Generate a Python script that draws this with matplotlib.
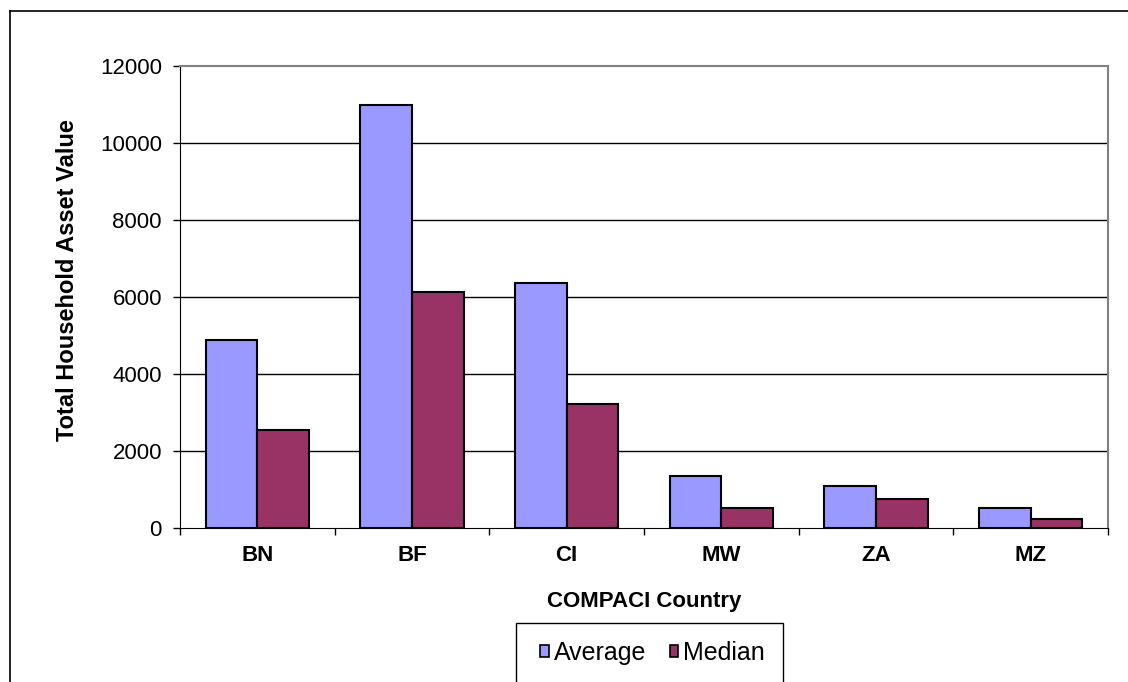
import matplotlib
matplotlib.use('Agg')
import matplotlib.pyplot as plt
import matplotlib.patches as mpatches
import numpy as np

countries = ['BN', 'BF', 'CI', 'MW', 'ZA', 'MZ']
average = [4880, 10980, 6380, 1370, 1095, 525]
median = [2555, 6140, 3235, 520, 757, 250]

plt.rcParams['font.family'] = ['Liberation Sans', 'DejaVu Sans']

W, H = 1128, 682
fig = plt.figure(figsize=(W / 100, H / 100), dpi=100)
ax = fig.add_axes([180 / W, 1 - 528.3 / H, 928 / W, 462.3 / H])

x = np.arange(len(countries))
w = 1 / 3
ax.bar(x - w / 2, average, w, color='#9999FF', edgecolor='black', linewidth=1.5, label='Average', zorder=3)
ax.bar(x + w / 2, median, w, color='#993366', edgecolor='black', linewidth=1.5, label='Median', zorder=3)

ax.set_xlim(-0.5, len(countries) - 0.5)
ax.set_ylim(0, 12000)
ax.set_yticks(range(0, 12001, 2000))
ax.tick_params(axis='y', direction='out', length=5, width=1, labelsize=16, pad=8)

# category labels in the middle, tick marks on the boundaries
ax.set_xticks(x)
ax.set_xticklabels(countries, fontsize=16, fontweight='bold')
ax.tick_params(axis='x', which='major', length=0, pad=12)
ax.set_xticks(np.arange(-0.5, len(countries)), minor=True)
ax.tick_params(axis='x', which='minor', direction='out', length=5, width=1)

for v in range(2000, 12000, 2000):
    ax.axhline(v, color='black', linewidth=1, zorder=1)

for side in ['top', 'right']:
    ax.spines[side].set_color('#808080')
    ax.spines[side].set_linewidth(1.5)

ax.set_ylabel('Total Household Asset Value', fontsize=17, fontweight='bold', labelpad=15)
ax.yaxis.label.set_y(0.537)
ax.set_xlabel('COMPACI Country', fontsize=16, fontweight='bold', labelpad=18)

leg = ax.legend(loc='center left', bbox_to_anchor=(540 / W, 1 - 653 / H),
                bbox_transform=fig.transFigure, ncol=2, frameon=False,
                fontsize=18, handlelength=0.34, handleheight=0.34,
                handletextpad=0.2, columnspacing=0.95, borderpad=0, borderaxespad=0)
for h in leg.legend_handles:
    h.set_edgecolor('black')
    h.set_linewidth(1.2)

# legend box, its bottom edge is cut off by the image
fig.add_artist(mpatches.Rectangle((516 / W, -0.05), (783 - 516) / W, 0.05 + (H - 623) / H,
                                  transform=fig.transFigure, fill=False,
                                  edgecolor='black', linewidth=1))

# outer chart border (only top and left visible in the crop)
fig.add_artist(plt.Line2D([10 / W, 1], [1 - 11 / H, 1 - 11 / H], color='black', linewidth=1.2))
fig.add_artist(plt.Line2D([10 / W, 10 / W], [0, 1 - 11 / H], color='black', linewidth=1.2))

fig.savefig('out.png', dpi=100)
